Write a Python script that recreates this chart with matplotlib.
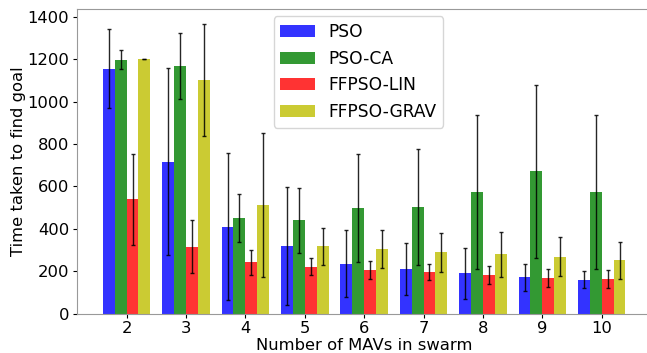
import numpy as np
import matplotlib
matplotlib.use('Agg')
import matplotlib.pyplot as plt

swarm_sizes = [2, 3, 4, 5, 6, 7, 8, 9, 10]
algos = ['PSO', 'PSO-CA', 'FFPSO-LIN', 'FFPSO-GRAV']
warna = ['b', 'g', 'r', 'y']

pso_mean = [1157, 718, 410, 317, 236, 209, 190, 171, 160]
pso_std = [186, 440, 348, 279, 159, 122, 120, 64, 41]
psoca_mean = [1199, 1169, 451, 440, 497, 504, 575, 671, 573]
psoca_std = [44, 155, 114, 153, 255, 273, 363, 408, 365]
lin_mean = [540, 316, 243, 220, 204, 195, 181, 168, 162]
lin_std = [215, 127, 59, 40, 42, 38, 42, 43, 42]
grav_mean = [1202, 1103, 512, 317, 305, 289, 280, 269, 251]
grav_std = [2, 266, 341, 88, 89, 93, 106, 94, 88]

means = [pso_mean, psoca_mean, lin_mean, grav_mean]
stds = [pso_std, psoca_std, lin_std, grav_std]

fig = plt.figure(figsize=(6.47, 3.53), dpi=100)
ax = fig.add_axes([76.7 / 647, 1 - 313.5 / 353, 574.9 / 647, 304.2 / 353])

x = np.array(swarm_sizes)
lebar = 0.2
for i, (nama, c) in enumerate(zip(algos, warna)):
    ax.bar(x + (i - 1.5) * lebar, means[i], lebar, yerr=stds[i], color=c,
           alpha=0.8, label=nama,
           error_kw=dict(ecolor='black', alpha=0.85, capsize=1.5, elinewidth=1))

ax.set_xlim(1.16, 10.84)
ax.set_ylim(0, 1437)
ax.set_xticks(swarm_sizes)
ax.tick_params(labelsize=11.8, length=3, pad=2.5)
ax.set_xlabel('Number of MAVs in swarm', fontsize=11.8, labelpad=1)
ax.set_ylabel('Time taken to find goal', fontsize=11.8, labelpad=1)
for s in ax.spines.values():
    s.set_color('0.6')
ax.legend(loc='upper center', fontsize=12.3, bbox_to_anchor=(0.49, 1.005))

fig.savefig('out.png', dpi=100)
plt.close()
